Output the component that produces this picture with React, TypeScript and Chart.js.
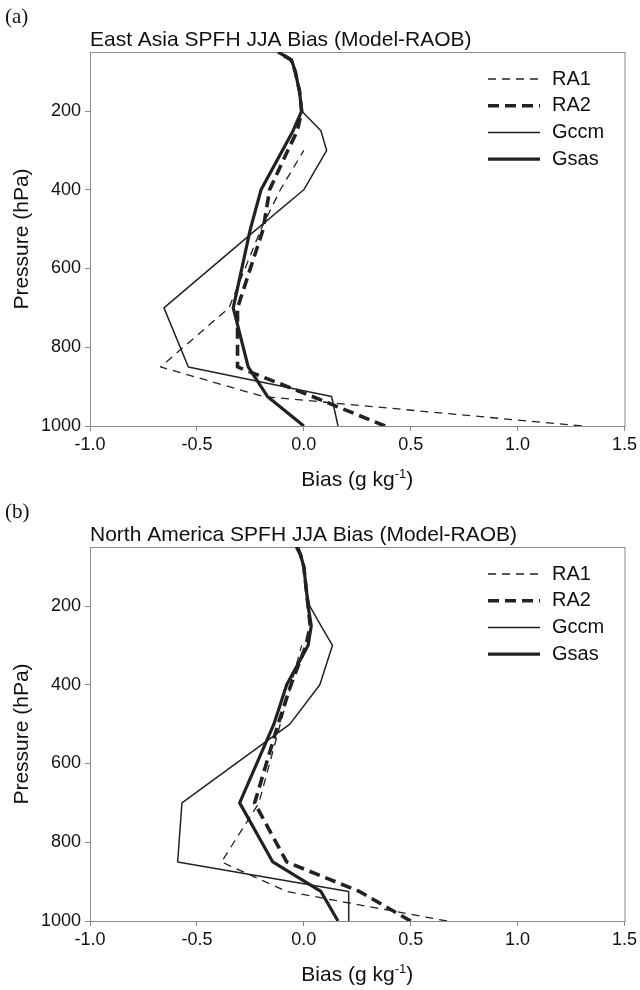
import { useEffect, useRef } from "react";
import { Chart, registerables } from "chart.js";

Chart.register(...registerables);

// Pressure levels (hPa), from surface to top
const levels = [1000, 925, 850, 700, 500, 400, 300, 250, 200, 150, 100, 70, 50];

// (a) East Asia SPFH JJA bias (g/kg)
const eaRA1 = [1.3, -0.19, -0.67, -0.35, -0.2, -0.11, 0.0, null, null, null, null, null, null];
const eaRA2 = [0.38, 0.04, -0.31, -0.31, -0.19, -0.16, -0.075, -0.03, -0.01, -0.02, -0.04, -0.06, -0.12];
const eaGccm = [0.16, 0.13, -0.54, -0.654, -0.22, 0.0, 0.107, 0.08, -0.01, -0.02, -0.04, -0.06, -0.12];
const eaGsas = [0.0, -0.17, -0.26, -0.33, -0.25, -0.2, -0.1, -0.05, -0.01, -0.02, -0.04, -0.057, -0.12];

// (b) North America SPFH JJA bias (g/kg)
const naRA1 = [0.67, -0.08, -0.385, -0.21, -0.11, -0.06, -0.01, null, null, null, null, null, null];
const naRA2 = [0.5, 0.26, -0.08, -0.23, -0.12, -0.06, 0.01, 0.03, 0.02, 0.01, 0.0, -0.015, -0.03];
const naGccm = [0.21, 0.21, -0.59, -0.57, -0.065, 0.075, 0.134, 0.08, 0.028, 0.01, 0.0, -0.015, -0.035];
const naGsas = [0.16, 0.08, -0.145, -0.3, -0.14, -0.08, 0.02, 0.035, 0.02, 0.01, 0.0, -0.015, -0.035];

const seriesNames = ["RA1", "RA2", "Gccm", "Gsas"];
const xTicks = [-1.0, -0.5, 0.0, 0.5, 1.0, 1.5];
const yTicks = [200, 400, 600, 800, 1000];

const SANS = "'Liberation Sans', Arial, sans-serif";
const SERIF = "'Liberation Serif', 'Times New Roman', serif";
const INK = "#222";

const styles = [
  { borderWidth: 1.3, borderDash: [8, 6] },
  { borderWidth: 3.6, borderDash: [11, 6] },
  { borderWidth: 1.5, borderDash: [] as number[] },
  { borderWidth: 3.2, borderDash: [] as number[] },
];

function toPoints(vals: (number | null)[]) {
  const pts: { x: number; y: number }[] = [];
  levels.forEach((p, i) => {
    const v = vals[i];
    if (v !== null && v !== undefined) pts.push({ x: v, y: p });
  });
  return pts;
}

function decorPlugin(panel: string, title: string) {
  return {
    id: "decor",
    beforeDatasetsDraw(chart: any) {
      const { ctx, chartArea: a } = chart;
      ctx.save();
      ctx.strokeStyle = "#8a8a8a";
      ctx.lineWidth = 1;
      ctx.strokeRect(a.left + 0.5, a.top + 0.5, a.right - a.left, a.bottom - a.top);
      ctx.restore();
    },
    afterDraw(chart: any) {
      const { ctx, chartArea: a } = chart;
      ctx.save();
      ctx.fillStyle = "#111";
      // panel label
      ctx.font = `21px ${SERIF}`;
      ctx.textAlign = "left";
      ctx.textBaseline = "middle";
      ctx.fillText(panel, 5, 17);
      // title
      ctx.font = `21px ${SANS}`;
      ctx.fillText(title, a.left, 40);
      // y title
      ctx.save();
      ctx.translate(22, (a.top + a.bottom) / 2);
      ctx.rotate(-Math.PI / 2);
      ctx.textAlign = "center";
      ctx.fillText("Pressure (hPa)", 0, 0);
      ctx.restore();
      // x title with superscript
      const main1 = "Bias (g kg";
      const sup = "-1";
      const main2 = ")";
      ctx.font = `21px ${SANS}`;
      const w1 = ctx.measureText(main1).width;
      const w3 = ctx.measureText(main2).width;
      ctx.font = `13px ${SANS}`;
      const w2 = ctx.measureText(sup).width;
      const total = w1 + w2 + w3;
      let x = (a.left + a.right) / 2 - total / 2;
      const base = a.bottom + 60;
      ctx.textBaseline = "alphabetic";
      ctx.textAlign = "left";
      ctx.font = `21px ${SANS}`;
      ctx.fillText(main1, x, base);
      x += w1;
      ctx.font = `13px ${SANS}`;
      ctx.fillText(sup, x, base - 8);
      x += w2;
      ctx.font = `21px ${SANS}`;
      ctx.fillText(main2, x, base);
      // legend
      ctx.textBaseline = "middle";
      chart.data.datasets.forEach((ds: any, i: number) => {
        const y = a.top + 27 + i * 26.7;
        ctx.save();
        ctx.strokeStyle = INK;
        ctx.lineWidth = ds.borderWidth;
        ctx.setLineDash(ds.borderDash || []);
        ctx.beginPath();
        ctx.moveTo(488, y);
        ctx.lineTo(540, y);
        ctx.stroke();
        ctx.restore();
        ctx.font = `20px ${SANS}`;
        ctx.fillStyle = "#111";
        ctx.fillText(ds.label, 552, y);
      });
      ctx.restore();
    },
  };
}

function Panel({ panel, title, series }: { panel: string; title: string; series: (number | null)[][] }) {
  const ref = useRef<HTMLCanvasElement | null>(null);
  useEffect(() => {
    if (!ref.current) return;
    const chart = new Chart(ref.current, {
      type: "line",
      data: {
        datasets: series.map((vals, i) => ({
          label: seriesNames[i],
          data: toPoints(vals),
          borderColor: INK,
          backgroundColor: INK,
          borderWidth: styles[i].borderWidth,
          borderDash: styles[i].borderDash,
          pointRadius: 0,
          fill: false,
          tension: 0,
          borderJoinStyle: "round" as const,
        })),
      },
      options: {
        responsive: false,
        animation: false,
        layout: { padding: { top: 52, right: 13, left: 0, bottom: 0 } },
        plugins: {
          legend: { display: false },
          title: { display: false },
          tooltip: { enabled: false },
        },
        scales: {
          x: {
            type: "linear",
            min: -1,
            max: 1.5,
            afterBuildTicks: (s: any) => {
              s.ticks = xTicks.map((v) => ({ value: v }));
            },
            afterFit: (s: any) => {
              s.height = 69;
            },
            ticks: {
              callback: (v: any) => Number(v).toFixed(1),
              font: { family: SANS, size: 18 },
              color: "#111",
              padding: 3,
              maxRotation: 0,
              autoSkip: false,
            },
            grid: { drawOnChartArea: false, drawTicks: true, tickLength: 5, color: "#8a8a8a" },
            border: { color: "#8a8a8a" },
          },
          y: {
            type: "linear",
            reverse: true,
            min: 50,
            max: 1000,
            afterBuildTicks: (s: any) => {
              s.ticks = yTicks.map((v) => ({ value: v }));
            },
            afterFit: (s: any) => {
              s.width = 90;
            },
            ticks: {
              callback: (v: any) => String(v),
              font: { family: SANS, size: 18 },
              color: "#111",
              padding: 4,
              autoSkip: false,
            },
            grid: { drawOnChartArea: false, drawTicks: true, tickLength: 5, color: "#8a8a8a" },
            border: { color: "#8a8a8a" },
          },
        },
      },
      plugins: [decorPlugin(panel, title)],
    });
    return () => chart.destroy();
  }, []);
  return <canvas ref={ref} width={640} height={495} style={{ display: "block", width: 640, height: 495 }} />;
}

export default function App() {
  return (
    <div style={{ position: "absolute", left: 0, top: 0, width: 640, height: 990, background: "#fff" }}>
      <Panel panel="(a)" title="East Asia SPFH JJA Bias (Model-RAOB)" series={[eaRA1, eaRA2, eaGccm, eaGsas]} />
      <Panel panel="(b)" title="North America SPFH JJA Bias (Model-RAOB)" series={[naRA1, naRA2, naGccm, naGsas]} />
    </div>
  );
}
